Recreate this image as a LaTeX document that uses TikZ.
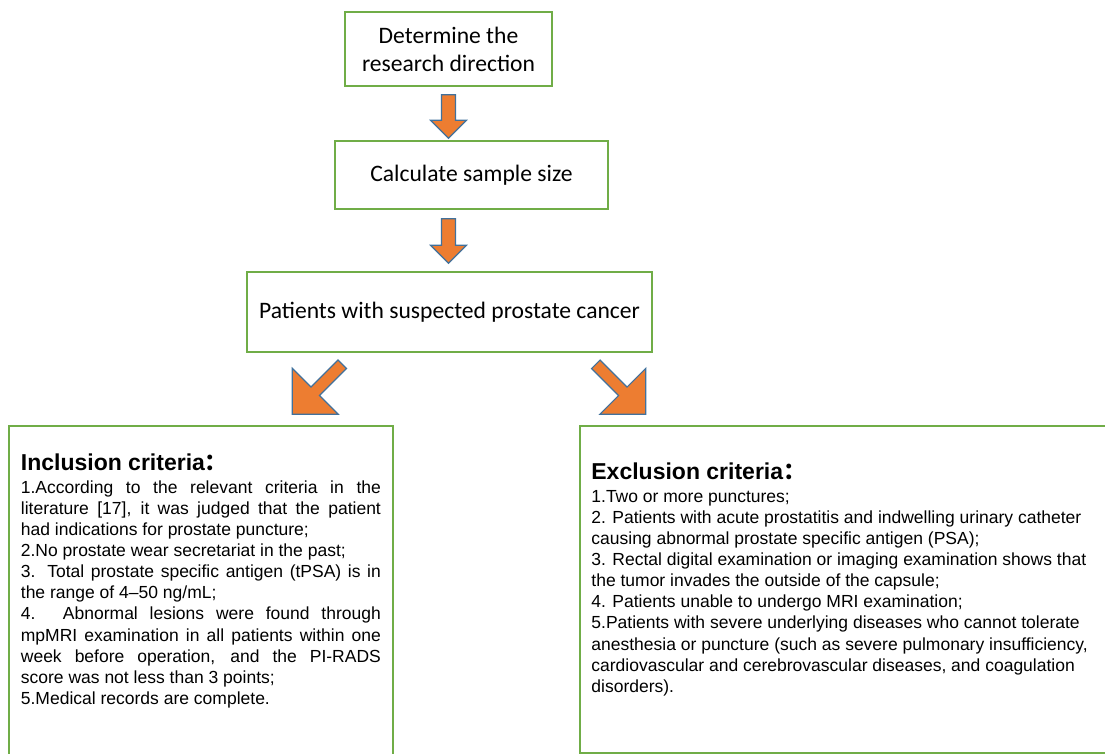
\documentclass[tikz,border=0pt]{standalone}
\usepackage{fontspec}
\setmainfont{Liberation Sans}
\newfontfamily\calfont{Carlito}
\newfontfamily\cjkfont{Noto Sans CJK SC}
\usetikzlibrary{calc}
\definecolor{boxgreen}{HTML}{70AD47}
\definecolor{arrfill}{HTML}{ED7D31}
\definecolor{arredge}{HTML}{41719C}
\newcommand{\jl}[1]{\makebox[360pt][s]{#1}}
\newcommand{\downarr}[2]{\draw[barrow] (#2) -- ++(18,-18) -- ++(-11,0) |- (#1) -- ++(-7,0) |- ($(#2)+(-18,-18)$) -- cycle;}
\begin{document}
\begin{tikzpicture}[x=1pt,y=-1pt,
  flowbox/.style={draw=boxgreen, line width=1.6pt, fill=white, inner sep=0pt,
    font=\calfont\fontsize{23.6}{28}\selectfont, align=center},
  critbox/.style={draw=boxgreen, line width=1.6pt, inner sep=0pt},
  barrow/.style={fill=arrfill, draw=arredge, line width=1.2pt, line join=miter},
  crittitle/.style={anchor=base west, inner sep=0pt, font=\bfseries\fontsize{23}{27}\selectfont},
  crittext/.style={anchor=north west, inner sep=0pt, align=left, font=\fontsize{17.5}{21.1}\selectfont},
]
\useasboundingbox (0,0) rectangle (1105,754);

% flow boxes
\node[flowbox, minimum width=207pt, minimum height=74pt] (b1) at (448.5,49) {Determine the\\research direction};
\node[flowbox, minimum width=273pt, minimum height=68pt] (b2) at (471.5,175) {Calculate sample size};
\node[flowbox, minimum width=405pt, minimum height=80pt] (b3) at (449.5,312) {Patients with suspected prostate cancer};

% criteria boxes
\node[critbox, minimum width=384pt, minimum height=334pt] (b4) at (201,593) {};
\node[critbox, minimum width=532pt, minimum height=327pt] (b5) at (846,589.5) {};

% down arrows
\coordinate (s1) at ($(b1.south)+(0,8)$);
\coordinate (t1) at ($(b2.north -| b1.south)+(0,-2)$);
\downarr{s1}{t1}
\coordinate (s2) at ($(b2.south -| b1.south)+(0,9)$);
\coordinate (t2) at ($(b3.north -| b1.south)+(0,-8)$);
\downarr{s2}{t2}

% diagonal arrows
\coordinate (ls) at ($(b3.south west)+(96,11.5)$);
\draw[barrow] ($(ls)+(-4.24,-4.24)$) -- ($(ls)+(4.24,4.24)$) -- ($(ls)+(-22.76,31.24)$)
  -- ($(ls)+(-4,50)$) -- ($(ls)+(-50,50)$) -- ($(ls)+(-50,4)$) -- ($(ls)+(-31.24,22.76)$) -- cycle;
\coordinate (rs) at ($(b3.south east)+(-57,11.5)$);
\draw[barrow] ($(rs)+(4.24,-4.24)$) -- ($(rs)+(-4.24,4.24)$) -- ($(rs)+(22.76,31.24)$)
  -- ($(rs)+(4,50)$) -- ($(rs)+(50,50)$) -- ($(rs)+(50,4)$) -- ($(rs)+(31.24,22.76)$) -- cycle;

% inclusion text
\node[crittitle] (inctitle) at ($(b4.north west)+(12.5,45.7)$) {Inclusion criteria{\cjkfont ：}};
\node[crittext] (inctext) at ($(b4.north west)+(12.5,53.2)$) {\strut\jl{1.According to the relevant criteria in the}\\
\jl{literature [17], it was judged that the patient}\\
had indications for prostate puncture;\\
2.No prostate wear secretariat in the past;\\
\jl{3. Total prostate specific antigen (tPSA) is in}\\
the range of 4–50 ng/mL;\\
\jl{4. Abnormal lesions were found through}\\
\jl{mpMRI examination in all patients within one}\\
\jl{week before operation, and the PI-RADS}\\
score was not less than 3 points;\\
5.Medical records are complete.};

% exclusion text
\node[crittitle] (exctitle) at ($(b5.north west)+(12,54.5)$) {Exclusion criteria{\cjkfont ：}};
\node[crittext] (exctext) at ($(b5.north west)+(12,62.2)$) {\strut 1.Two or more punctures;\\
2. Patients with acute prostatitis and indwelling urinary catheter\\
causing abnormal prostate specific antigen (PSA);\\
3. Rectal digital examination or imaging examination shows that\\
the tumor invades the outside of the capsule;\\
4. Patients unable to undergo MRI examination;\\
5.Patients with severe underlying diseases who cannot tolerate\\
anesthesia or puncture (such as severe pulmonary insufficiency,\\
cardiovascular and cerebrovascular diseases, and coagulation\\
disorders).};
\end{tikzpicture}
\end{document}
